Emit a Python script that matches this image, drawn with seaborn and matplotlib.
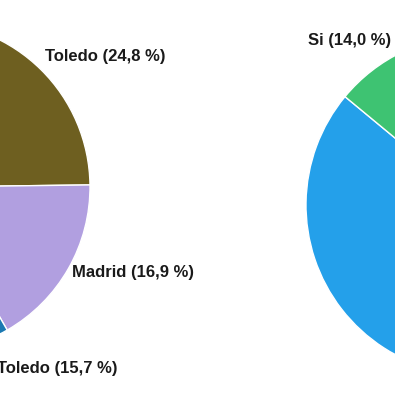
import matplotlib
matplotlib.use("Agg")
import matplotlib.pyplot as plt
import seaborn as sns

# Left pie (provincia)
left_labels = ["Toledo", "Madrid", "Toledo", "Otros"]
left_values = [24.8, 16.9, 15.7, 42.6]
left_colors = ["#6e5f20", "#b19fe0", "#1b79b2", "#cccccc"]
left_text = ["Toledo (24,8 %)", "Madrid (16,9 %)", "Toledo (15,7 %)"]

# Right pie (Si / No)
right_labels = ["No", "Si"]
right_values = [86.0, 14.0]
right_colors = ["#24a0ea", "#3ec372"]
right_text = ["Si (14,0 %)"]

sns.set_theme(style="white")
plt.rcParams['font.family'] = ['Liberation Sans', 'DejaVu Sans']

W, H = 395, 400
fig = plt.figure(figsize=(W / 100, H / 100), dpi=100)
ax = fig.add_axes([0, 0, 1, 1])
ax.set_axis_off()

wp = dict(edgecolor="white", linewidth=1.0)
ax.pie(left_values, colors=left_colors, startangle=90, counterclock=False,
       center=(-75, H - 187), radius=165, wedgeprops=wp)
ax.pie(right_values, colors=right_colors, startangle=90, counterclock=False,
       center=(476, H - 205), radius=170, wedgeprops=wp)

ax.set_xlim(0, W)
ax.set_ylim(0, H)
ax.set_aspect("equal")

fs = 12.0
kw = dict(fontsize=fs, fontweight="bold", color="#1a1a1a", va="center", ha="left")
ax.text(45, H - 57, left_text[0], **kw)
ax.text(72, H - 272, left_text[1], **kw)
ax.text(-3, H - 369, left_text[2], **kw)
ax.text(308, H - 40, right_text[0], **kw)

fig.savefig("out.png", dpi=100)
